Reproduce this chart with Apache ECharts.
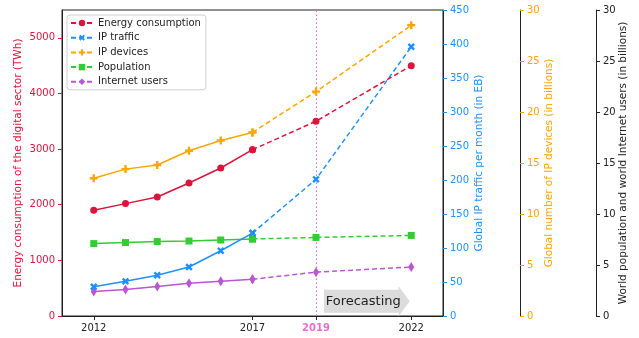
<!DOCTYPE html>
<html><head><meta charset="utf-8">
<script src="https://cdn.jsdelivr.net/npm/echarts@6/dist/echarts.min.js"></script>
<style>html,body{margin:0;padding:0;background:#fff}#c{width:639px;height:338px}</style>
</head><body><div id="c"></div>
<script>
const years = [2012, 2013, 2014, 2015, 2016, 2017, 2019, 2022];
const energy = [1900, 2020, 2140, 2390, 2660, 2990, 3500, 4500];
const ipTraffic = [43, 51, 60, 72, 96, 122, 201, 396];
const ipDevices = [13.5, 14.4, 14.8, 16.2, 17.2, 18.0, 22.0, 28.5];
const population = [7.1, 7.2, 7.3, 7.35, 7.45, 7.55, 7.7, 7.9];
const internetUsers = [2.4, 2.6, 2.9, 3.2, 3.4, 3.6, 4.3, 4.8];
const xTickLabels = [2012, 2017, 2019, 2022];
const leftTicks = [0, 1000, 2000, 3000, 4000, 5000];

const font = 'DejaVu Sans';
const plusPath = 'path://M3.5,0H6.5V3.5H10V6.5H6.5V10H3.5V6.5H0V3.5H3.5Z';
const defs = [
  {name: 'Energy consumption', data: energy, y: 0, color: '#dc143c', symbol: 'circle', size: 7, rot: 0},
  {name: 'IP traffic', data: ipTraffic, y: 1, color: '#1e90ff', symbol: plusPath, size: 8, rot: 45},
  {name: 'IP devices', data: ipDevices, y: 2, color: '#ffa500', symbol: plusPath, size: 8, rot: 0},
  {name: 'Population', data: population, y: 3, color: '#32cd32', symbol: 'rect', size: 7, rot: 0},
  {name: 'Internet users', data: internetUsers, y: 3, color: '#ba55d3', symbol: 'diamond', size: [6, 10], rot: 0}
];
const series = [];
defs.forEach((d, k) => {
  const pts = years.map((yr, i) => [yr, d.data[i]]);
  const common = {
    type: 'line', name: d.name, yAxisIndex: d.y, symbol: d.symbol, symbolSize: d.size,
    symbolRotate: d.rot, showSymbol: true, itemStyle: {color: d.color},
    z: 10 - k, animation: false, emphasis: {disabled: true}
  };
  const dashed = Object.assign({}, common, {data: pts.slice(5), lineStyle: {color: d.color, width: 1.5, type: [5, 3]}});
  if (k === 0) {
    dashed.markLine = {
      silent: true, symbol: 'none', label: {show: false},
      lineStyle: {color: '#e36fd0', type: [1.5, 2.5], width: 1.2},
      data: [{xAxis: 2019}]
    };
  }
  series.push(dashed);
  series.push(Object.assign({}, common, {data: pts.slice(0, 6), lineStyle: {color: d.color, width: 1.5, type: 'solid'}}));
});

function rightAxis(color, max, interval, offset, name, gap, lineColor) {
  return {
    type: 'value', position: 'right', min: 0, max: max, interval: interval, offset: offset,
    name: name, nameLocation: 'middle', nameRotate: 90, nameGap: gap, nameMoveOverlap: false,
    nameTextStyle: {color: color, fontFamily: font, fontSize: 10.5},
    axisLine: {show: true, lineStyle: {color: lineColor, width: 1}},
    axisTick: {show: true, length: 4, lineStyle: {color: color}},
    axisLabel: {color: color, fontFamily: font, fontSize: 10, margin: 7},
    splitLine: {show: false}
  };
}

const chart = echarts.init(document.getElementById('c'), null, {renderer: 'canvas'});
chart.setOption({
  animation: false,
  backgroundColor: '#fff',
  grid: {left: 62, right: 196, top: 10, bottom: 22, show: true, borderColor: '#222', borderWidth: 1,
         backgroundColor: 'transparent', outerBoundsMode: 'none', containLabel: false},
  legend: {
    orient: 'vertical', left: 67, top: 15, itemGap: 4.7, itemWidth: 22, itemHeight: 8,
    padding: [3, 5, 3, 3], borderColor: '#d0d0d0', borderWidth: 1, borderRadius: 3,
    backgroundColor: 'rgba(255,255,255,0.85)',
    textStyle: {fontFamily: font, fontSize: 10, color: '#222'},
    data: defs.map(d => d.name)
  },
  xAxis: {
    type: 'value', min: 2011, max: 2023,
    axisLine: {show: true, lineStyle: {color: '#222'}},
    axisTick: {show: true, length: 4, customValues: xTickLabels, lineStyle: {color: '#222'}},
    axisLabel: {
      customValues: xTickLabels, fontFamily: font, fontSize: 10, color: '#222', margin: 7,
      formatter: v => v === 2019 ? '{p|2019}' : String(v),
      rich: {p: {color: '#e36fd0', fontWeight: 'bold', fontFamily: font, fontSize: 10}}
    },
    splitLine: {show: false}
  },
  yAxis: [
    {
      type: 'value', position: 'left', min: 0, max: 5500,
      name: 'Energy consumption of the digital sector (TWh)', nameLocation: 'middle', nameRotate: 90, nameGap: 38, nameMoveOverlap: false,
      nameTextStyle: {color: '#dc143c', fontFamily: font, fontSize: 10.5},
      axisLine: {show: true, lineStyle: {color: '#222'}},
      axisTick: {show: true, length: 4, customValues: leftTicks, lineStyle: {color: '#dc143c'}},
      axisLabel: {customValues: leftTicks, color: '#dc143c', fontFamily: font, fontSize: 10, margin: 7, formatter: v => String(v)},
      splitLine: {show: false}
    },
    rightAxis('#1e90ff', 450, 50, 0, 'Global IP traffic per month (in EB)', 31, '#222'),
    rightAxis('#ffa500', 30, 5, 77, 'Global number of IP devices (in billions)', 24, '#222'),
    rightAxis('#222', 30, 5, 153, 'World population and world Internet users (in billions)', 22, '#222')
  ],
  series: series
});

// Forecasting arrow annotation placed via axis scales
const x0 = chart.convertToPixel({xAxisIndex: 0}, 2019.25);
const x1 = chart.convertToPixel({xAxisIndex: 0}, 2021.6);
const x2 = chart.convertToPixel({xAxisIndex: 0}, 2021.95);
const yTop = chart.convertToPixel({yAxisIndex: 0}, 470);
const yBot = chart.convertToPixel({yAxisIndex: 0}, 60);
const yHeadTop = chart.convertToPixel({yAxisIndex: 0}, 540);
const yHeadBot = chart.convertToPixel({yAxisIndex: 0}, -10);
const yMid = (yTop + yBot) / 2;
chart.setOption({
  graphic: [
    {type: 'polygon', z: 50, shape: {points: [[x0, yTop], [x1, yTop], [x1, yHeadTop], [x2, yMid], [x1, yHeadBot], [x1, yBot], [x0, yBot]]},
     style: {fill: '#dcdcdc'}},
    {type: 'text', z: 51, x: (x0 + x1) / 2 + 2, y: yMid, style: {text: 'Forecasting', fill: '#222', font: '13px "DejaVu Sans"', align: 'center', verticalAlign: 'middle'}}
  ]
});
</script></body></html>
